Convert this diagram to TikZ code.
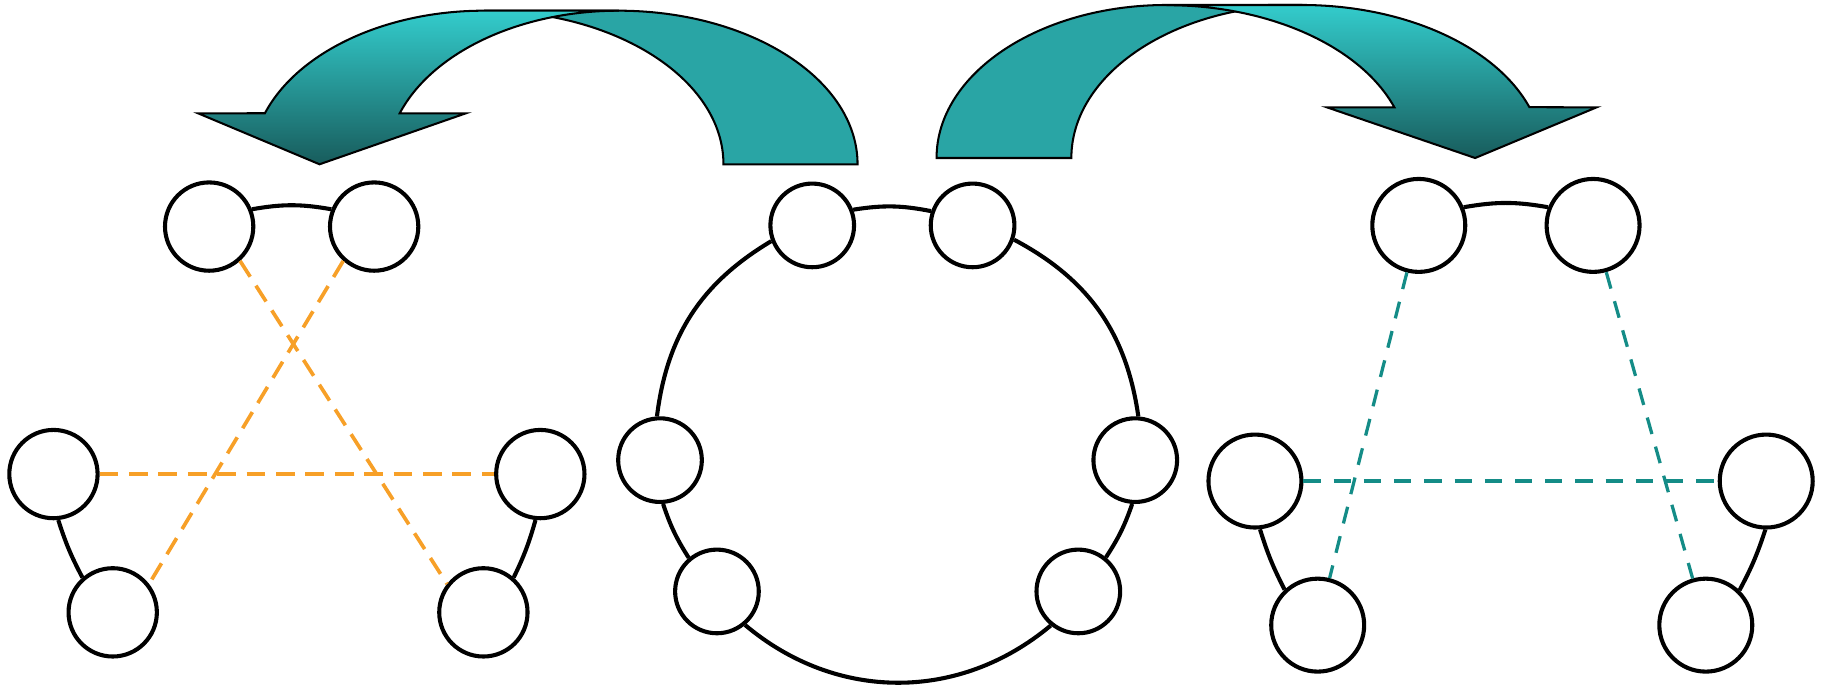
\documentclass[tikz,border=0pt]{standalone}
\usepackage{tikz}
\usepackage{xcolor}
\definecolor{bandlight}{RGB}{51,204,204}
\definecolor{banddark}{RGB}{24,92,92}
\definecolor{bandback}{RGB}{41,165,165}
\definecolor{swaporange}{RGB}{247,160,40}
\definecolor{swapteal}{RGB}{20,140,135}

\begin{document}
\begin{tikzpicture}[
    x=0.1mm, y=-0.1mm,
    nd/.style={circle, draw=black, line width=1pt, fill=white, inner sep=0pt, minimum size=7.4mm},
    link/.style={draw=black, line width=1pt},
    odash/.style={draw=swaporange, line width=0.9pt, dash pattern=on 4.6pt off 2.6pt},
    tdash/.style={draw=swapteal, line width=0.8pt, dash pattern=on 4.2pt off 3.2pt},
    bandtail/.style={draw=black, line width=0.5pt, fill=bandback},
    bandhead/.style={draw=black, line width=0.5pt, top color=bandlight, bottom color=banddark}
]
\useasboundingbox (0,0) rectangle (1568,589.5);

% curved arrows
\draw[bandtail] (416.6,9.2) -- (532,9.2) arc[start angle=270, end angle=360, x radius=206, y radius=132.2]
    -- (622.6,141.4) arc[start angle=0, end angle=-90, x radius=206, y radius=132.2] -- cycle;
\draw[bandhead] (416.6,9.2) arc[start angle=270, end angle=199.4, x radius=200, y radius=132.2]
    -- (170.4,97.5) -- (275,141.4) -- (401,97.5) -- (344,97.5)
    arc[start angle=199.4, end angle=270, x radius=200, y radius=132.2] -- cycle;

\draw[bandtail] (1120,4.3) -- (1004,4.3) arc[start angle=270, end angle=180, x radius=198, y radius=131.7]
    -- (922,136) arc[start angle=180, end angle=270, x radius=198, y radius=131.7] -- cycle;
\draw[bandhead] (1120,4.3) arc[start angle=270, end angle=340.6, x radius=208, y radius=131.7]
    -- (1374,92.4) -- (1269.5,136) -- (1142,92.4) -- (1200,92.4)
    arc[start angle=340.6, end angle=270, x radius=208, y radius=131.7] -- cycle;

% left group
\node[nd, minimum size=7.6mm] (lTL) at (180,195) {};
\node[nd, minimum size=7.6mm] (lTR) at (322,195) {};
\node[nd, minimum size=7.6mm] (lML) at (46,408) {};
\node[nd, minimum size=7.6mm] (lMR) at (465,408) {};
\node[nd, minimum size=7.6mm] (lBL) at (97,527) {};
\node[nd, minimum size=7.6mm] (lBR) at (416,527) {};

\draw[link] (lTL.22) to[bend left=10] (lTR.158);
\draw[link] (lML.-84) to[bend right=5] (lBL.131);
\draw[link] (lMR.-96) to[bend left=5] (lBR.49);
\draw[odash] (lTL.-48) -- (lBR.142);
\draw[odash] (lTR.-132) -- (lBL.38);
\draw[odash] (lML) -- (lMR);

% ring
\node[nd, minimum size=7.2mm] (cTL) at (699,194) {};
\node[nd, minimum size=7.2mm] (cTR) at (837,194) {};
\node[nd, minimum size=7.2mm] (cML) at (568,396) {};
\node[nd, minimum size=7.2mm] (cMR) at (977,396) {};
\node[nd, minimum size=7.2mm] (cBL) at (617,509) {};
\node[nd, minimum size=7.2mm] (cBR) at (928,509) {};

\draw[link] (cTL.201) to[bend right=26] (cML.94);
\draw[link] (cML.274) to[bend right=7] (cBL.130);
\draw[link] (cBL.310) to[bend right=40] (cBR.231);
\draw[link] (cBR.51) to[bend right=7] (cMR.266);
\draw[link] (cMR.86) to[bend right=27] (cTR.-19);
\draw[link] (cTR.161) to[bend right=10] (cTL.21);

% right group
\node[nd, minimum size=8mm] (rTL) at (1221,194) {};
\node[nd, minimum size=8mm] (rTR) at (1371,194) {};
\node[nd, minimum size=8mm] (rML) at (1080,414) {};
\node[nd, minimum size=8mm] (rMR) at (1520,414) {};
\node[nd, minimum size=8mm] (rBL) at (1134,538) {};
\node[nd, minimum size=8mm] (rBR) at (1468,538) {};

\draw[link] (rTL.22) to[bend left=10] (rTR.158);
\draw[link] (rML.-84) to[bend right=5] (rBL.133);
\draw[link] (rMR.-91) to[bend left=5] (rBR.46);
\draw[tdash] (rTL) -- (rBL);
\draw[tdash] (rTR) -- (rBR);
\draw[tdash] (rML) -- (rMR);
\end{tikzpicture}
\end{document}
